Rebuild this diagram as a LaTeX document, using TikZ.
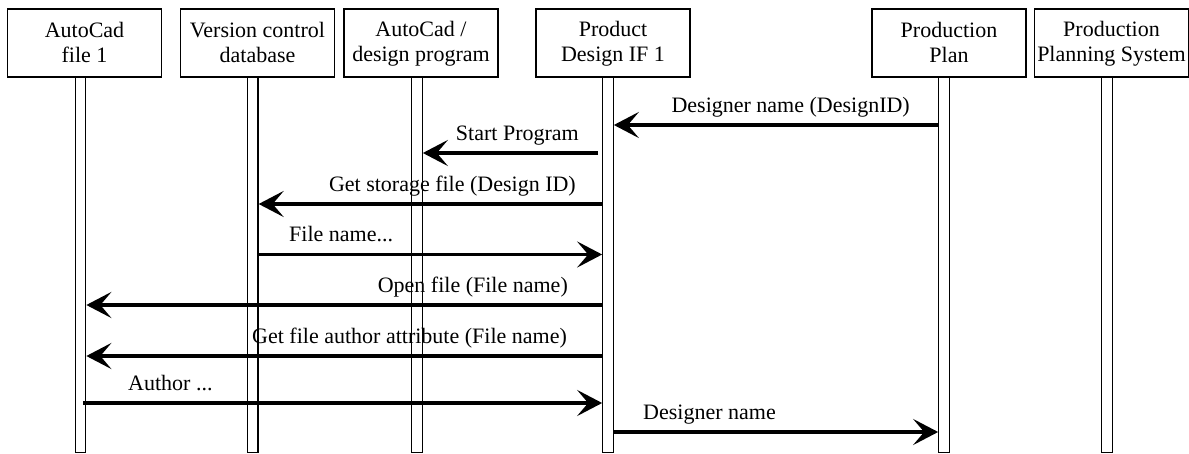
\documentclass[tikz,border=0pt]{standalone}
\usepackage{fontspec}
\setmainfont{Liberation Serif}
\usetikzlibrary{arrows.meta}
% strut that fixes the baselines of the two-line header texts
\newcommand\boxstrut{\rule[-2.5pt]{0pt}{20pt}}
\begin{document}
\begin{tikzpicture}[x=1pt,y=-1pt,
  lifehead/.style={draw, line width=1.3pt, minimum width=154pt, minimum height=68pt,
    inner sep=0pt, align=center, font=\fontsize{22}{25}\selectfont},
  lifebar/.style={draw, line width=1.2pt, fill=white, minimum width=10.5pt,
    minimum height=375pt, inner sep=0pt, anchor=north},
  msg/.style={line width=3.5pt, -{Stealth[length=25pt,width=26pt,inset=11pt]}},
  msglabel/.style={font=\fontsize{22}{25}\selectfont, inner sep=0pt}
]
\useasboundingbox (0,0) rectangle (1189,454);

% lifeline heads
\node[lifehead] (h1) at (84.5,43)  {\boxstrut AutoCad\\\boxstrut file 1};
\node[lifehead] (h2) at (257.5,43) {\boxstrut Version control\\\boxstrut database};
\node[lifehead] (h3) at (421,43)   {\boxstrut AutoCad /\\\boxstrut design program};
\node[lifehead] (h4) at (613,43)   {\boxstrut Product\\\boxstrut Design IF 1};
\node[lifehead] (h5) at (949,43)   {\boxstrut Production\\\boxstrut Plan};
\node[lifehead] (h6) at (1111.5,43) {\boxstrut Production\\\boxstrut Planning System};

% lifeline bars
\node[lifebar] (l1) at (80.5,77) {};
\node[lifebar] (l2) at (252.8,77) {};
\node[lifebar] (l3) at (417,77) {};
\node[lifebar] (l4) at (608,77) {};
\node[lifebar] (l5) at (944,77) {};
\node[lifebar] (l6) at (1107,77) {};

% messages
\draw[msg] (l5.west |- 0,125) -- (l4.east |- 0,125);
\node[msglabel, anchor=base east] (m1) at (910,112.5) {Designer name (DesignID)};

\draw[msg] ([xshift=-4pt]l4.west |- 0,153) -- (l3.east |- 0,153);
\node[msglabel, anchor=base east] (m2) at (579,140.5) {Start Program};

\draw[msg] (l4.west |- 0,204) -- (l2.east |- 0,204);
\node[msglabel, anchor=base east] (m3) at (576,191.5) {Get storage file (Design ID)};

\draw[msg] (l2.east |- 0,254.5) -- (l4.west |- 0,254.5);
\node[msglabel, anchor=base west] (m4) at (289,242) {File name...};

\draw[msg] (l4.west |- 0,305) -- (l1.east |- 0,305);
\node[msglabel, anchor=base east] (m5) at (568,292.5) {Open file (File name)};

\draw[msg] (l4.west |- 0,356) -- (l1.east |- 0,356);
\node[msglabel, anchor=base east] (m6) at (567,343.5) {Get file author attribute (File name)};

\draw[msg] ([xshift=-3pt]l1.east |- 0,403) -- (l4.west |- 0,403);
\node[msglabel, anchor=base west] (m7) at (128,390.5) {Author ...};

\draw[msg] (l4.east |- 0,432) -- (l5.west |- 0,432);
\node[msglabel, anchor=base west] (m8) at (643,419.5) {Designer name};
\end{tikzpicture}
\end{document}
